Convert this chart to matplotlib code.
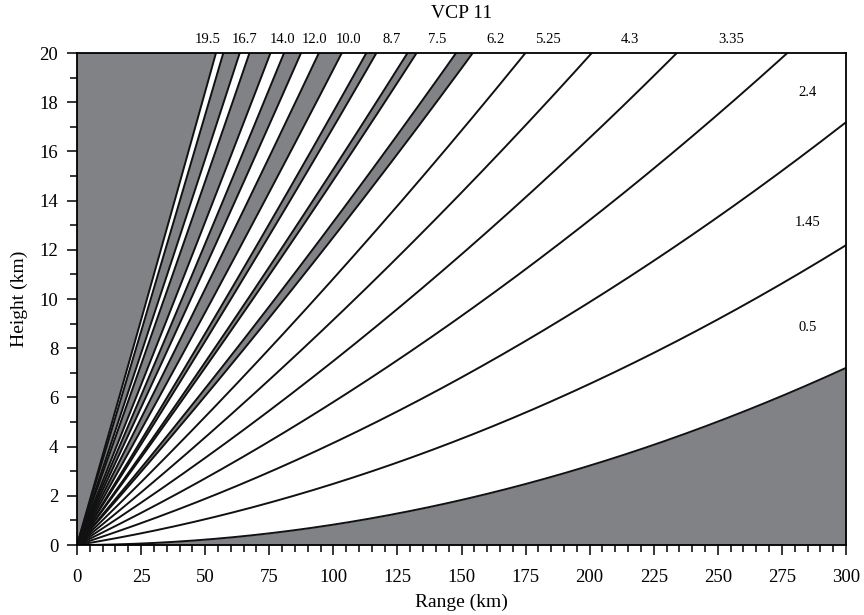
import numpy as np
import matplotlib
matplotlib.use("Agg")
import matplotlib.pyplot as plt
from matplotlib.ticker import MultipleLocator

plt.rcParams['font.family'] = ['Liberation Serif', 'DejaVu Serif']

# VCP 11 elevation angles (deg) and beam width
elevations = [0.5, 1.45, 2.4, 3.35, 4.3, 5.25, 6.2, 7.5, 8.7, 10.0, 12.0, 14.0, 16.7, 19.5]
beam_width = 0.95
earth_radius = 6371.0

# label positions (range km, height km)
top_labels = ["19.5", "16.7", "14.0", "12.0", "10.0", "8.7", "7.5", "6.2", "5.25", "4.3", "3.35"]
top_label_x = [51.1, 65.2, 80.0, 92.5, 106.1, 122.9, 140.4, 163.1, 183.7, 215.7, 255.1]
side_labels = ["2.4", "1.45", "0.5"]
side_label_y = [18.4, 13.1, 8.85]
side_label_x = 285.0

gray = "#818286"


def beam_height(x, elev_deg):
    # height of a ray vs ground range, no refraction
    R = earth_radius
    th = np.radians(elev_deg)
    slant = np.linspace(0, 450, 3000)
    h = np.sqrt(slant**2 + R**2 + 2 * slant * R * np.sin(th)) - R
    s = R * np.arcsin(slant * np.cos(th) / (R + h))
    return np.interp(x, s, h)


x = np.linspace(0, 300, 1500)
lower = [e - beam_width / 2 for e in elevations]
upper = [e + beam_width / 2 for e in elevations]

fig = plt.figure(figsize=(8.64, 6.15), dpi=100)
ax = fig.add_axes([0.0891, 0.1138, 0.8901, 0.8])

# below the lowest beam
ax.fill_between(x, 0, beam_height(x, lower[0]), color=gray, lw=0)
# gaps between beams
for i in range(len(elevations) - 1):
    if lower[i + 1] > upper[i] + 1e-9:
        ax.fill_between(x, beam_height(x, upper[i]), beam_height(x, lower[i + 1]),
                        color=gray, lw=0)
# above the highest beam
ax.fill_between(x, beam_height(x, upper[-1]), 25, color=gray, lw=0)

for e in sorted(set(np.round(lower + upper, 4))):
    ax.plot(x, beam_height(x, e), color="#111111", lw=1.4)

ax.set_xlim(0, 300)
ax.set_ylim(0, 20)
ax.xaxis.set_major_locator(MultipleLocator(25))
ax.xaxis.set_minor_locator(MultipleLocator(5))
ax.yaxis.set_major_locator(MultipleLocator(2))
ax.yaxis.set_minor_locator(MultipleLocator(1))
ax.tick_params(which="major", direction="out", length=7.5, width=1.1, labelsize=13.5)
ax.tick_params(which="minor", direction="out", length=5, width=1.1)
ax.tick_params(axis="x", which="major", pad=10)
ax.tick_params(axis="y", which="major", pad=6)
for s in ax.spines.values():
    s.set_linewidth(1.3)

ax.set_xlabel("Range (km)", fontsize=14, labelpad=5)
ax.set_ylabel("Height (km)", fontsize=14, labelpad=8)
ax.set_title("VCP 11", fontsize=14, pad=25)

for lab, xx in zip(top_labels, top_label_x):
    ax.text(xx, 20.3, lab, ha="center", va="bottom", fontsize=10.5)
for lab, y in zip(side_labels, side_label_y):
    ax.text(side_label_x, y, lab, ha="center", va="center", fontsize=10.5)

fig.savefig("out.png", dpi=100)
